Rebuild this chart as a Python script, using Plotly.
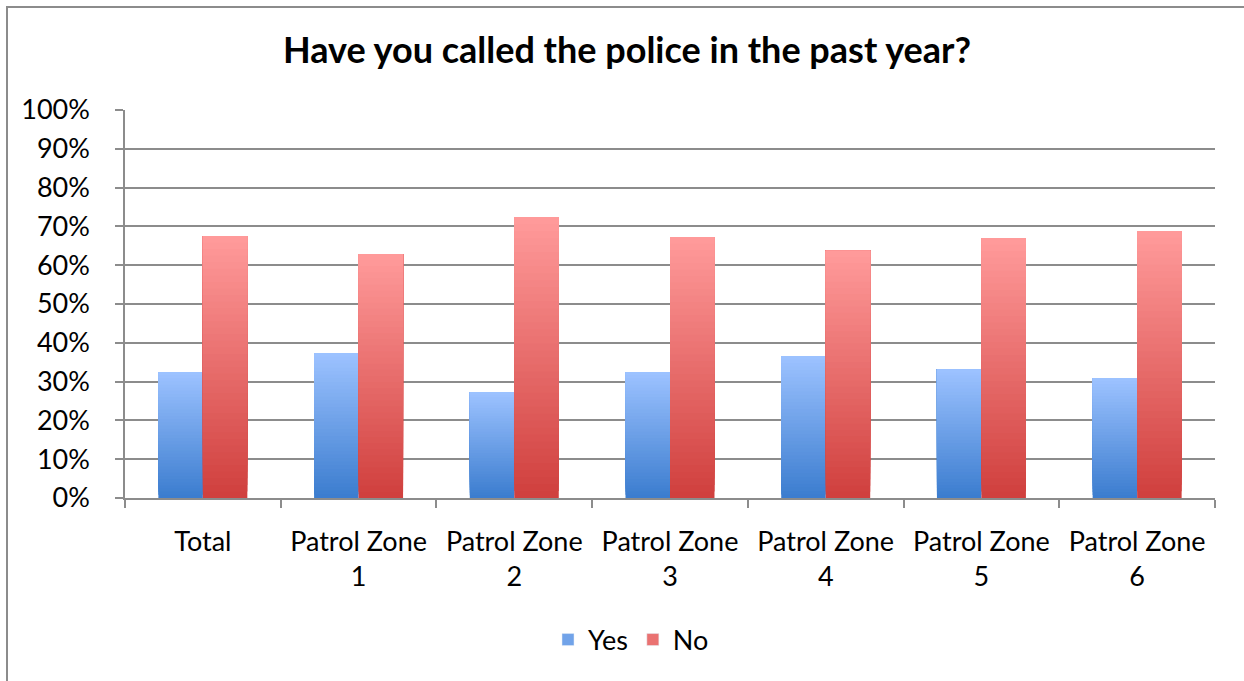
import plotly.graph_objects as go

categories = ["Total", "Patrol Zone<br>1", "Patrol Zone<br>2", "Patrol Zone<br>3",
              "Patrol Zone<br>4", "Patrol Zone<br>5", "Patrol Zone<br>6"]
yes_values = [0.325, 0.374, 0.273, 0.325, 0.366, 0.332, 0.309]
no_values = [0.675, 0.629, 0.724, 0.673, 0.637, 0.670, 0.688]
y_ticks = [0, 0.1, 0.2, 0.3, 0.4, 0.5, 0.6, 0.7, 0.8, 0.9, 1.0]

FONT = "Lato, Open Sans, sans-serif"
W, H = 1244, 681
L, R, T, B = 125, 29, 110, 183
pw, ph = W - L - R, H - T - B

# gradient colours (bottom -> top) per series
YES_BOTTOM, YES_TOP = (0x3c, 0x7d, 0xcf), (0x9c, 0xc2, 0xff)
NO_BOTTOM, NO_TOP = (0xd0, 0x40, 0x3e), (0xff, 0x9a, 0x9a)
N_SEG = 40


def mix(c0, c1, t):
    return "rgb(%d,%d,%d)" % tuple(round(a + (b - a) * t) for a, b in zip(c0, c1))


fig = go.Figure()


def add_gradient_series(name, values, bottom, top, group):
    # legend entry
    fig.add_trace(go.Bar(x=categories, y=[None] * len(values), name=name,
                         offsetgroup=group, marker=dict(color=mix(bottom, top, 0.55)),
                         showlegend=True))
    # overlapping layers: each layer runs from its base up to the bar's value,
    # later (lighter) layers cover earlier ones -> vertical gradient without seams
    for k in range(N_SEG):
        fig.add_trace(go.Bar(
            x=categories,
            y=[v * (N_SEG - k) / N_SEG for v in values],
            base=[v * k / N_SEG for v in values],
            offsetgroup=group, name=name, showlegend=False,
            marker=dict(color=mix(bottom, top, k / (N_SEG - 1)), line=dict(width=0)),
            hoverinfo="skip",
        ))


add_gradient_series("Yes", yes_values, YES_BOTTOM, YES_TOP, "yes")
add_gradient_series("No", no_values, NO_BOTTOM, NO_TOP, "no")

fig.update_layout(
    width=W, height=H,
    margin=dict(l=L, r=R, t=T, b=B),
    paper_bgcolor="white", plot_bgcolor="white",
    barmode="group", bargap=0.4286, bargroupgap=0,
    font=dict(family=FONT, size=27, color="black"),
    title=dict(text="<b>Have you called the police in the past year?</b>",
               x=627 / W, xref="container", xanchor="center",
               y=1 - 50 / H, yref="container", yanchor="middle",
               font=dict(family=FONT, size=36, color="black")),
    legend=dict(orientation="h", x=631 / W, xanchor="center", xref="container",
                y=1 - 640 / H, yref="container", yanchor="middle",
                font=dict(family=FONT, size=27, color="black"),
                itemwidth=30, tracegroupgap=0, traceorder="normal"),
    showlegend=True,
)

fig.update_yaxes(range=[0, 1], tickvals=y_ticks, tickformat=".0%",
                 showgrid=True, gridcolor="#8c8c8c", gridwidth=1.5,
                 showline=True, linecolor="#8c8c8c", linewidth=1.5,
                 ticks="outside", ticklen=8, tickcolor="#8c8c8c", tickwidth=1.5,
                 zeroline=False, fixedrange=True, ticklabelstandoff=20,
                 tickfont=dict(family=FONT, size=27, color="black"))
fig.update_xaxes(showline=True, linecolor="#8c8c8c", linewidth=1.5,
                 ticks="outside", tickson="boundaries", ticklen=8,
                 tickcolor="#8c8c8c", tickwidth=1.5, showgrid=False,
                 tickfont=dict(family=FONT, size=27, color="black"),
                 ticklabelstandoff=19)

# outer chart border (top and left edges visible in the frame)
fig.add_shape(type="rect", xref="paper", yref="paper",
              x0=(7 - L) / pw, x1=(1260 - L) / pw,
              y0=(H - B - 700) / ph, y1=(H - B - 7) / ph,
              line=dict(color="#8c8c8c", width=2), fillcolor="rgba(0,0,0,0)",
              layer="below")

fig.write_html("out.html", config={"displayModeBar": False},
               post_script="document.body.style.margin='0';")
